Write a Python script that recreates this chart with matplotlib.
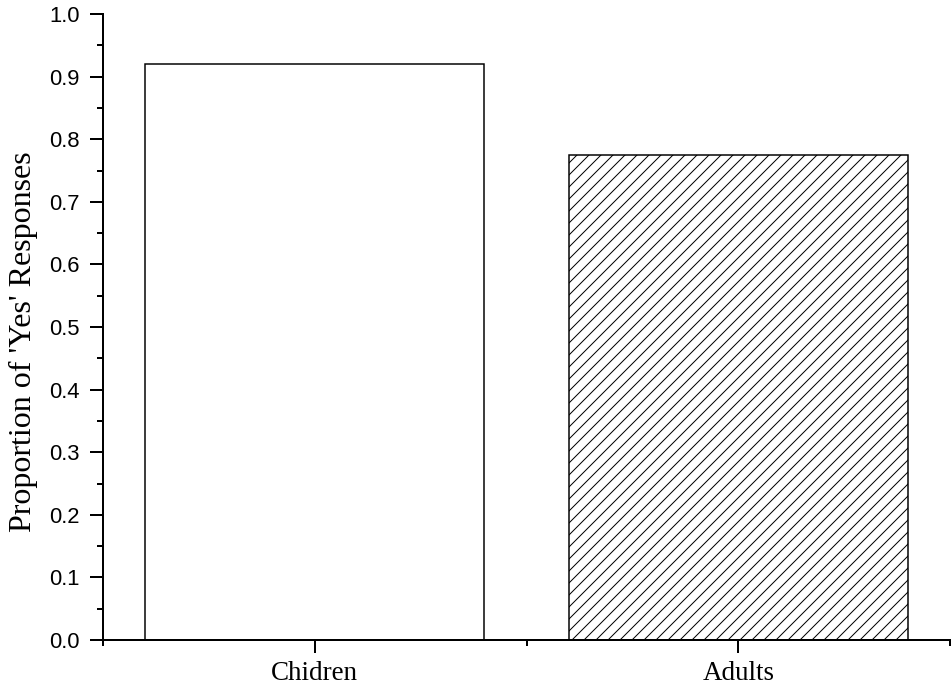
#!/usr/bin/env python3
import numpy as np
import matplotlib
matplotlib.use('Agg')
import matplotlib.pyplot as plt
from matplotlib.ticker import MultipleLocator, FormatStrFormatter

groups = ['Chidren', 'Adults']
proportions = [0.92, 0.775]
hatches = ['', '//']


def main():
    plt.rcParams['hatch.linewidth'] = 1.0
    # dpi 72 so that one point is one pixel (and hatch spacing matches)
    fig = plt.figure(figsize=(951 / 72, 692 / 72), dpi=72)
    ax = fig.add_axes([103 / 951, 52 / 692, 847 / 951, 626 / 692])

    pos = np.arange(1, len(groups) + 1)
    for p, v, h in zip(pos, proportions, hatches):
        ax.bar(p, v, width=0.8, color='white', edgecolor='black',
               linewidth=1.5, hatch=h, zorder=2)

    ax.set_xlim(0.5, len(groups) + 0.5)
    ax.set_ylim(0, 1.0)
    ax.set_xticks(pos)
    ax.set_xticklabels(groups, fontfamily='Liberation Serif', fontsize=27)
    ax.xaxis.set_minor_locator(MultipleLocator(0.5))
    ax.yaxis.set_major_locator(MultipleLocator(0.1))
    ax.yaxis.set_minor_locator(MultipleLocator(0.05))
    ax.yaxis.set_major_formatter(FormatStrFormatter('%.1f'))
    for lab in ax.get_yticklabels():
        lab.set_fontfamily('Liberation Sans')
        lab.set_fontsize(22)

    ax.tick_params(which='major', direction='out', length=13, width=2)
    ax.tick_params(which='minor', direction='out', length=6, width=2)
    ax.tick_params(axis='y', which='major', pad=10)
    ax.tick_params(axis='x', which='major', pad=8)

    ax.spines['top'].set_visible(False)
    ax.spines['right'].set_visible(False)
    ax.spines['left'].set_linewidth(2)
    ax.spines['bottom'].set_linewidth(2)

    ax.set_ylabel("Proportion of 'Yes' Responses", fontfamily='Liberation Serif',
                  fontsize=32)
    ax.yaxis.set_label_coords(-0.077, 0.476)

    fig.savefig('out.png', dpi=72)


if __name__ == '__main__':
    main()
